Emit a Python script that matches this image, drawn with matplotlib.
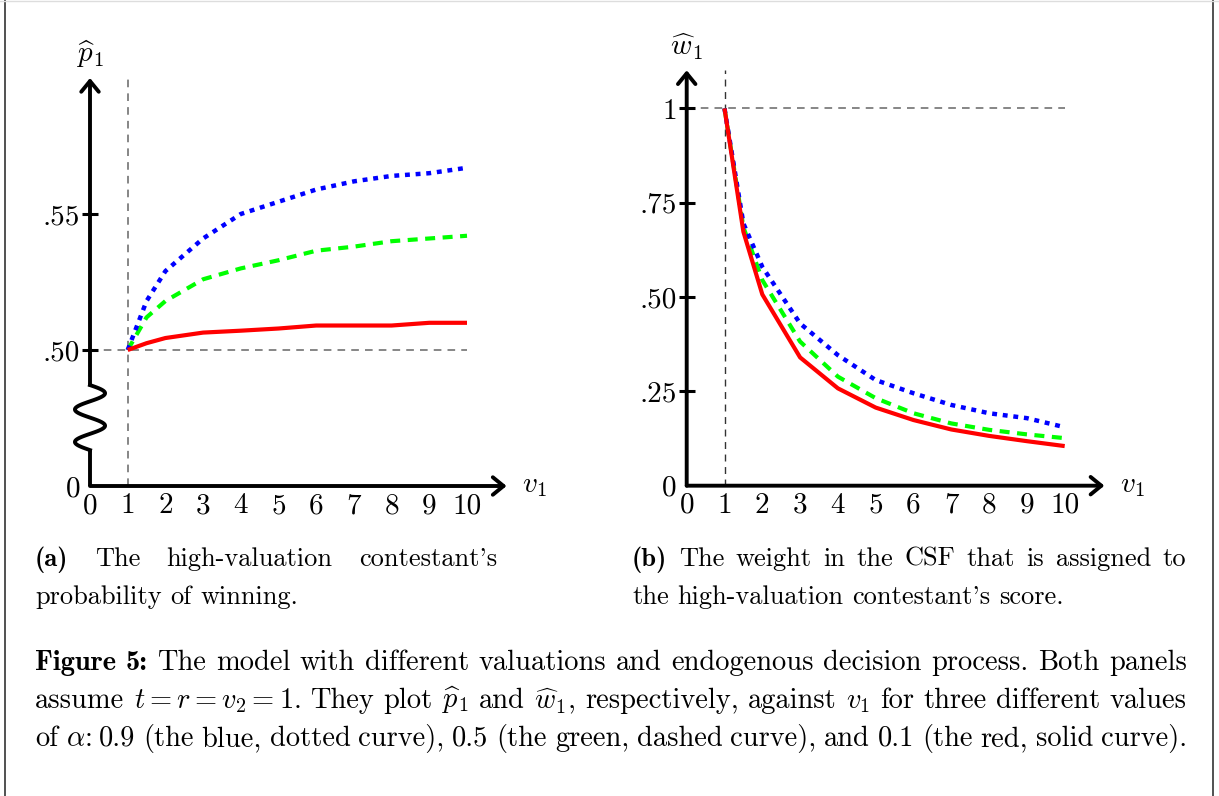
import numpy as np
import matplotlib
matplotlib.use("Agg")
import matplotlib.pyplot as plt
from matplotlib.lines import Line2D

plt.rcParams['font.family'] = ['cmr10']
plt.rcParams['mathtext.fontset'] = 'cm'
plt.rcParams['axes.formatter.use_mathtext'] = True
plt.rcParams['axes.unicode_minus'] = False

W, H = 1219, 796

# valuations v1
v1 = [1, 1.5, 2, 3, 4, 5, 6, 7, 8, 9, 10]

# panel (a): p1 hat
p_blue = [0.500, 0.518, 0.529, 0.541, 0.550, 0.5545, 0.559, 0.562, 0.564, 0.565, 0.567]
p_green = [0.500, 0.512, 0.518, 0.526, 0.530, 0.533, 0.5365, 0.538, 0.540, 0.541, 0.542]
p_red = [0.500, 0.5025, 0.5044, 0.5064, 0.5071, 0.5079, 0.509, 0.509, 0.509, 0.510, 0.510]

# panel (b): w1 hat
w_blue = [1.0, 0.695, 0.580, 0.430, 0.346, 0.280, 0.245, 0.214, 0.192, 0.179, 0.155]
w_green = [1.0, 0.685, 0.545, 0.382, 0.289, 0.232, 0.192, 0.165, 0.148, 0.136, 0.126]
w_red = [1.0, 0.673, 0.507, 0.340, 0.258, 0.207, 0.174, 0.149, 0.132, 0.118, 0.105]

x_ticks = list(range(11))
p_ticks = [0.45, 0.50, 0.55]
p_labels = ['0', '.50', '.55']
w_ticks = [0, 0.25, 0.50, 0.75, 1]
w_labels = ['0', '.25', '.50', '.75', '1']

P0 = 0.45   # p axis is cut: 0 is drawn where .45 would be

TICK_FS = 21
SUB_FS = 19
CAP_FS = 20.5
AX_LW = 2.8

fig = plt.figure(figsize=(W / 100, H / 100), dpi=100)


def px_axes(x0, x1, y0, y1):
    # axes from pixel box (top-left origin)
    return fig.add_axes([x0 / W, 1 - y1 / H, (x1 - x0) / W, (y1 - y0) / H])


def setup(ax, yticks, ylabels, ytop, ylab):
    for s in ['top', 'right']:
        ax.spines[s].set_visible(False)
    ax.spines['left'].set_position(('data', 0))
    ax.spines['bottom'].set_position(('data', yticks[0]))
    ax.spines['left'].set_color('none')
    ax.spines['bottom'].set_color('none')
    ax.set_xticks(x_ticks)
    ax.set_xticklabels([str(t) for t in x_ticks], fontsize=TICK_FS)
    ax.set_yticks(yticks)
    ax.set_yticklabels(ylabels, fontsize=TICK_FS)
    ax.tick_params(axis='x', length=0, pad=5)
    ax.tick_params(axis='y', direction='inout', length=12, width=2.2, pad=1)
    ax.yaxis.get_major_ticks()[0].tick1line.set_visible(False)
    arrow = dict(arrowstyle='->,head_length=0.55,head_width=0.45', lw=AX_LW,
                 color='k', mutation_scale=14, shrinkA=0, shrinkB=0,
                 joinstyle='round', capstyle='round')
    ax.annotate('', xy=(11.05, yticks[0]), xytext=(0, yticks[0]), arrowprops=arrow)
    ax.text(11.45, yticks[0], r'$v_1$', fontsize=TICK_FS, ha='left', va='center')
    ax.text(0, ytop + (ytop - yticks[0]) * 0.02, ylab, fontsize=TICK_FS,
            ha='center', va='bottom')
    return arrow


def curves(ax, blue, green, red):
    ax.plot(v1, blue, color='#0000ff', lw=3.2, ls=(0, (1.1, 1.3)),
            dash_capstyle='butt', zorder=4)
    ax.plot(v1, green, color='#00ff00', lw=3.0, ls=(0, (2.4, 1.8)),
            dash_capstyle='butt', zorder=3)
    ax.plot(v1, red, color='#ff0000', lw=3.0, solid_capstyle='butt', zorder=5)


# ---- panel (a)
ax1 = px_axes(71.15, 523.55, 50.8, 513.2)
ax1.set_xlim(-0.5, 11.5)
ax1.set_ylim(P0 - 0.01, P0 + 0.16)
arrow = setup(ax1, p_ticks, p_labels, 0.60, r'$\widehat{p}_1$')
curves(ax1, p_blue, p_green, p_red)
ax1.plot([1, 1], [P0, 0.60], color='#666666', lw=1.1, ls=(0, (5, 4)), zorder=1)
ax1.plot([0, 10], [0.50, 0.50], color='#666666', lw=1.1, ls=(0, (5, 4)), zorder=1)
# broken y axis with a wiggle
zz_lo, zz_hi = 0.4632, 0.4871
ax1.plot([0, 0], [P0, zz_lo], color='k', lw=AX_LW, solid_capstyle='butt')
tt = np.linspace(0, 1, 80)
ax1.plot(0.4 * np.sin(4 * np.pi * tt), zz_hi - (zz_hi - zz_lo) * tt,
         color='k', lw=AX_LW)
ax1.annotate('', xy=(0, 0.60), xytext=(0, zz_hi), arrowprops=arrow)

# ---- panel (b)
ax2 = px_axes(667.8, 1121.4, 48.03, 512.1)
ax2.set_xlim(-0.5, 11.5)
ax2.set_ylim(-0.07, 1.16)
arrow = setup(ax2, w_ticks, w_labels, 1.101, r'$\widehat{w}_1$')
curves(ax2, w_blue, w_green, w_red)
ax2.plot([1, 1], [0, 1.101], color='#333333', lw=1.0, ls=(0, (5, 4)), zorder=1)
ax2.plot([0, 10], [1, 1], color='#666666', lw=1.1, ls=(0, (5, 4)), zorder=1)
ax2.annotate('', xy=(0, 1.101), xytext=(0, 0), arrowprops=arrow)

# ---- frame
fig.add_artist(Line2D([5 / W, 5 / W], [0, 1], color='#333333', lw=1.2))
fig.add_artist(Line2D([1213 / W, 1213 / W], [0, 1], color='#333333', lw=1.2))
fig.add_artist(Line2D([0, 1], [1 - 1 / H, 1 - 1 / H], color='#dddddd', lw=1.0))

# ---- captions (justified by hand)
renderer = fig.canvas.get_renderer()


def line(tokens, x0, x1, y, size, last=False):
    items = []
    for tok in tokens:
        bold = tok.startswith('**')
        s = tok.strip('*')
        t = fig.text(0, 1 - y / H, s, fontsize=size, ha='left', va='baseline',
                     family='cmb10' if bold else 'cmr10')
        items.append((t, t.get_window_extent(renderer).width))
    total = sum(w for _, w in items)
    if last or len(items) < 2:
        gap = size * 100 / 72 * 0.333
    else:
        gap = (x1 - x0 - total) / (len(items) - 1)
    x = x0
    for t, w in items:
        t.set_x(x / W)
        x += w + gap


line(['**(a)**', 'The', 'high-valuation', "contestant's"], 35, 497, 566, SUB_FS)
line(['probability', 'of', 'winning.'], 35, 497, 604, SUB_FS, last=True)
line(['**(b)**', 'The', 'weight', 'in', 'the', 'CSF', 'that', 'is', 'assigned', 'to'],
     632, 1186, 566, SUB_FS)
line(['the', 'high-valuation', "contestant's", 'score.'], 632, 1186, 604, SUB_FS,
     last=True)

line(['**Figure', '**5:**', 'The', 'model', 'with', 'different', 'valuations', 'and',
      'endogenous', 'decision', 'process.', 'Both', 'panels'], 35, 1187, 670, CAP_FS)
line(['assume', r'$t=r=v_2=1$.', 'They', 'plot', r'$\widehat{p}_1$', 'and',
      r'$\widehat{w}_1$,', 'respectively,', 'against', r'$v_1$', 'for', 'three',
      'different', 'values'], 35, 1187, 708, CAP_FS)
line(['of', r'$\alpha$:', '0.9', '(the', 'blue,', 'dotted', 'curve),', '0.5', '(the',
      'green,', 'dashed', 'curve),', 'and', '0.1', '(the', 'red,', 'solid', 'curve).'],
     35, 1187, 746, CAP_FS)

fig.savefig('out.png', dpi=100)
